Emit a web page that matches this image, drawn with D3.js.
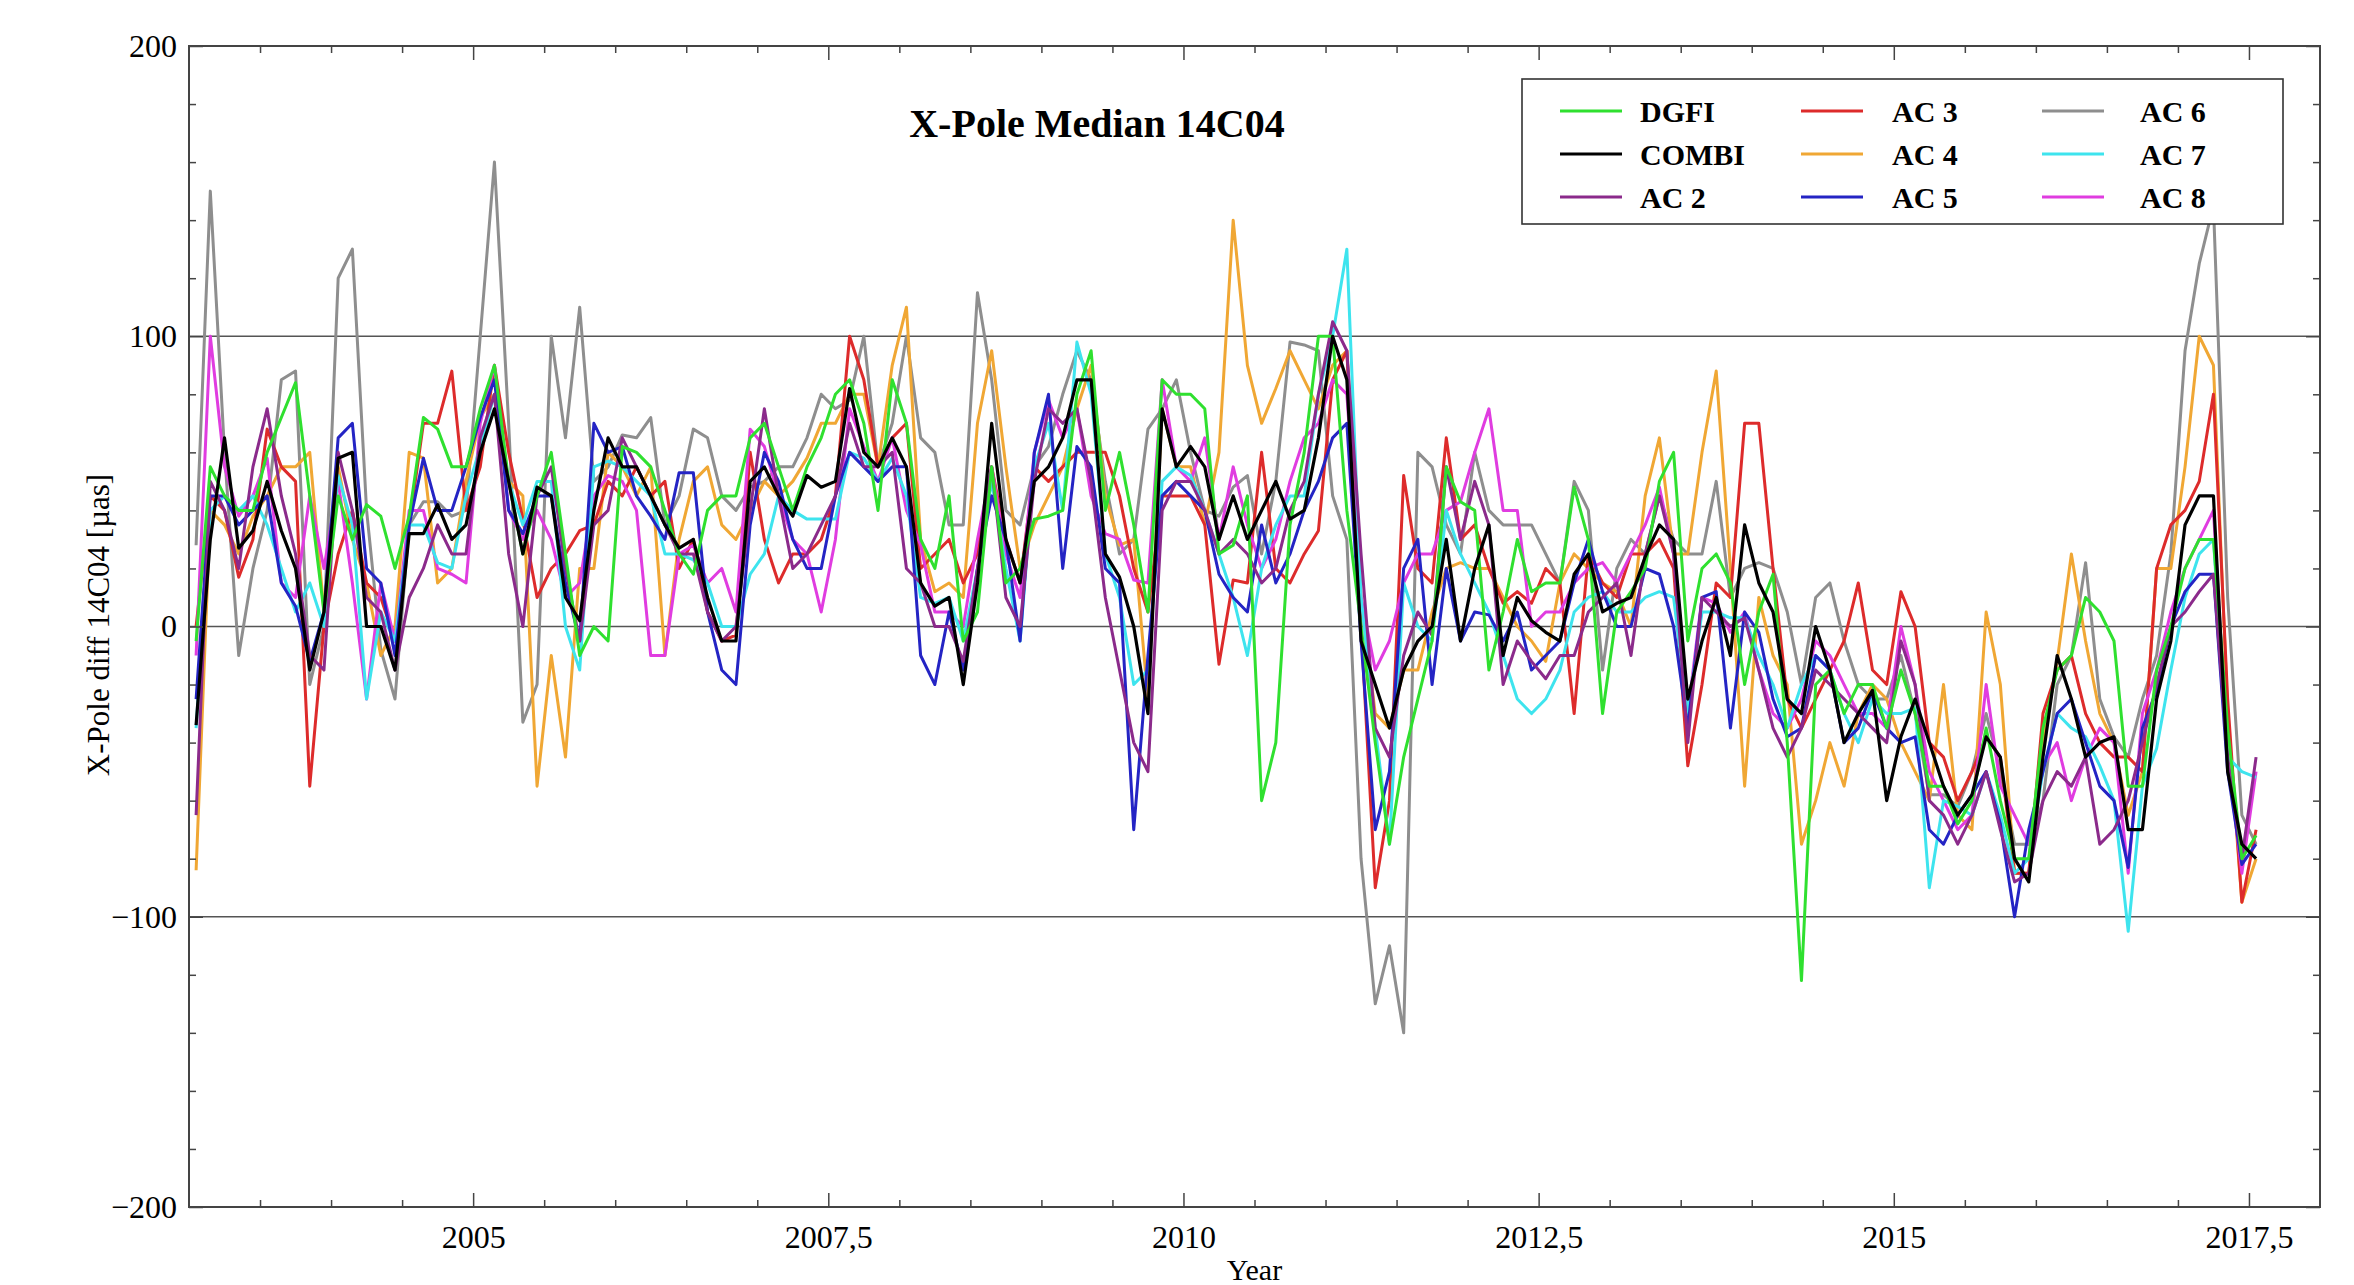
<!DOCTYPE html>
<html><head><meta charset="utf-8">
<script src="https://cdn.jsdelivr.net/npm/d3@7"></script>
<style>html,body{margin:0;padding:0;background:#fff;} svg{display:block;}</style>
</head><body>
<svg id="chart" width="2354" height="1285"></svg>
<script>
const startYear = 2003.05;
const yearStep = 0.1;
const xTickValues = [2005, 2007.5, 2010, 2012.5, 2015, 2017.5];
const yTickValues = [-200, -100, 0, 100, 200];
const gridValues = [-100, 0, 100];

const dgfi = [
 -5, 55, 45, 40, 40, 60, 72, 84, 45, 5, 45, 30, 42, 38, 20, 38, 72, 68, 55,
 55, 75, 90, 50, 25, 45, 60, 25, -10, 0, -5, 62, 60, 55, 40, 25, 18, 40, 45,
 45, 65, 70, 55, 40, 55, 65, 80, 85, 70, 40, 85, 70, 30, 20, 45, -5, 5,
 55, 15, 20, 37, 38, 40, 80, 95, 40, 60, 35, 5, 85, 80, 80, 75, 25, 28, 45,
 -60, -40, 35, 60, 100, 100, 40, 0, -40, -75, -45, -25, -5, 55, 43, 40, -15, 5, 30,
 12, 15, 15, 48, 30, -30, 5, 12, 20, 50, 60, -5, 20, 25, 15, -20, 5, 18, -40,
 -122, -20, -15, -30, -20, -20, -35, -15, -30, -55, -55, -68, -60, -35, -60, -80, -80, -35,
 -15, -10, 10, 5, -5, -55, -55, -15, 0, 20, 30, 30, -35, -80, -72];
const combi = [
 -34, 30, 65, 27, 33, 50, 33, 20, -15, 5, 58, 60, 0, 0, -15, 32, 32, 42, 30,
 35, 60, 75, 50, 25, 48, 45, 10, 2, 40, 65, 55, 55, 45, 35, 27, 30, 10, -5,
 -5, 50, 55, 45, 38, 52, 48, 50, 82, 60, 55, 65, 55, 15, 7, 10, -20, 15,
 70, 30, 15, 50, 55, 65, 85, 85, 25, 17, 0, -30, 75, 55, 62, 55, 30, 45, 30,
 40, 50, 37, 40, 65, 100, 85, -5, -20, -35, -15, -5, 0, 30, -5, 20, 35, -10, 10,
 2, -2, -5, 18, 25, 5, 8, 10, 24, 35, 30, -25, -5, 10, -10, 35, 15, 5, -25,
 -30, 0, -15, -40, -30, -22, -60, -38, -25, -40, -55, -65, -58, -38, -45, -80, -88, -45,
 -10, -25, -45, -40, -38, -70, -70, -25, -5, 35, 45, 45, -50, -75, -80];
const ac2 = [
 -65, 50, 40, 20, 55, 75, 45, 25, -10, -15, 60, 40, 10, 5, -15, 10, 20, 35, 25,
 25, 65, 80, 25, 0, 45, 55, 20, -5, 35, 40, 65, 55, 45, 35, 25, 25, 5, -5,
 0, 40, 75, 45, 20, 25, 35, 45, 70, 55, 55, 60, 20, 15, 0, 0, -12, 20,
 55, 10, 0, 50, 75, 70, 75, 50, 10, -15, -40, -50, 40, 50, 50, 40, 25, 30, 25,
 15, 20, 40, 50, 80, 105, 95, 25, -35, -45, -10, 5, -3, 55, 30, 50, 35, -20, -5,
 -12, -18, -10, -10, 5, 10, 15, -10, 25, 45, 25, -40, 10, 5, 0, 3, -15, -35, -45,
 -35, -15, -20, -25, -30, -35, -40, -5, -20, -60, -65, -75, -65, -50, -70, -88, -85, -60,
 -50, -55, -45, -75, -70, -60, -40, -20, 0, 5, 12, 18, -45, -80, -45];
const ac3 = [
 0, 45, 40, 17, 30, 68, 55, 50, -55, 0, 25, 40, 15, 10, -5, 35, 70, 70, 88,
 40, 55, 90, 60, 37, 10, 20, 25, 33, 35, 50, 45, 55, 45, 50, 20, 30, 5, -5,
 -3, 60, 30, 15, 25, 25, 30, 45, 100, 85, 55, 65, 70, 20, 25, 30, 15, 25,
 55, 30, 15, 55, 50, 55, 60, 60, 60, 45, 20, 5, 45, 45, 45, 35, -13, 16, 15,
 60, 20, 15, 25, 33, 85, 95, 0, -90, -60, 52, 20, 15, 65, 30, 35, 20, 8, 12,
 8, 20, 15, -30, 25, 15, 10, 25, 25, 30, 20, -48, -20, 15, 10, 70, 70, 20, -25,
 -35, -25, -15, -5, 15, -15, -20, 12, 0, -40, -45, -60, -50, -38, -45, -85, -85, -30,
 -15, -10, -30, -40, -45, -45, -50, 20, 35, 40, 50, 80, -25, -95, -70];
const ac4 = [
 -84, 40, 35, 25, 38, 45, 55, 55, 60, 5, 55, 30, 15, -10, 0, 60, 58, 15, 20,
 50, 72, 80, 50, 45, -55, -10, -45, 20, 20, 60, 55, 45, 55, -10, 30, 50, 55, 35,
 30, 40, 50, 45, 50, 58, 70, 70, 80, 80, 55, 90, 110, 30, 12, 15, 10, 70,
 95, 55, 20, 35, 45, 55, 75, 90, 45, 28, 30, -25, 75, 55, 55, 35, 60, 140, 90,
 70, 82, 95, 85, 75, 90, 95, 10, -30, -35, -15, -15, 5, 20, 22, 20, 20, 10, 0,
 -5, -12, 15, 25, 20, 15, 12, 0, 45, 65, 25, 25, 60, 88, 20, -55, 10, -10, -20,
 -75, -60, -40, -55, -30, -20, -25, -40, -50, -60, -20, -65, -70, 5, -20, -85, -85, -40,
 -12, 25, -5, -30, -40, -65, -50, 20, 20, 55, 100, 90, -30, -95, -80];
const ac5 = [
 -25, 45, 45, 35, 40, 45, 15, 7, -12, 5, 65, 70, 20, 15, -10, 35, 58, 40, 40,
 55, 72, 85, 40, 32, 45, 45, 15, -5, 70, 60, 62, 45, 38, 30, 53, 53, 5, -15,
 -20, 35, 60, 50, 30, 20, 20, 45, 60, 55, 50, 55, 55, -10, -20, 5, -15, 20,
 45, 30, -5, 60, 80, 20, 62, 55, 20, 15, -70, -10, 45, 50, 45, 40, 18, 10, 5,
 35, 15, 25, 40, 50, 65, 70, -5, -70, -50, 20, 30, -20, 20, -5, 5, 4, -5, 5,
 -15, -10, -5, 15, 30, 12, 0, 0, 20, 18, 0, -35, 10, 12, -35, 5, -2, -25, -38,
 -35, -10, -15, -40, -35, -22, -35, -40, -38, -70, -75, -65, -58, -50, -68, -100, -70, -50,
 -30, -25, -40, -55, -60, -83, -35, -22, 0, 12, 18, 18, -50, -82, -75];
const ac6 = [
 28, 150, 60, -10, 20, 40, 85, 88, -20, 0, 120, 130, 40, -8, -25, 35, 43, 43, 38,
 40, 100, 160, 70, -33, -20, 100, 65, 110, 50, 55, 66, 65, 72, 35, 45, 68, 65, 45,
 40, 48, 50, 55, 55, 65, 80, 75, 78, 100, 55, 70, 100, 65, 60, 35, 35, 115,
 85, 40, 35, 55, 62, 80, 95, 85, 50, 25, 30, 68, 75, 85, 60, 40, 38, 48, 52,
 25, 50, 98, 97, 95, 45, 30, -80, -130, -110, -140, 60, 55, 35, 25, 60, 40, 35, 35,
 35, 25, 15, 50, 40, -15, 20, 30, 25, 45, 30, 25, 25, 50, 10, 20, 22, 20, 5,
 -20, 10, 15, -5, -20, -25, -25, -10, -30, -58, -58, -62, -50, -30, -50, -75, -75, -60,
 -20, -10, 22, -25, -38, -45, -25, -10, 25, 95, 125, 145, 10, -65, -75];
const ac7 = [
 -35, 40, 45, 40, 45, 35, 20, 5, 15, 0, 52, 35, -25, 5, -5, 35, 35, 22, 20,
 45, 62, 80, 50, 35, 50, 50, 0, -15, 55, 57, 55, 50, 45, 25, 25, 23, 15, 0,
 0, 18, 25, 45, 40, 37, 37, 37, 60, 58, 50, 58, 45, 10, 8, 10, -5, 20,
 50, 20, -5, 55, 70, 40, 98, 80, 25, 10, -20, -15, 50, 55, 52, 40, 25, 10, -10,
 20, 35, 45, 45, 80, 100, 130, 10, -35, -75, 15, 0, -5, 40, 25, 15, 5, -10, -25,
 -30, -25, -15, 5, 10, 12, 5, 5, 10, 12, 10, -30, 5, 5, 3, 3, -10, -20, -35,
 -20, -10, -15, -30, -40, -25, -30, -30, -28, -90, -60, -62, -65, -50, -65, -85, -80, -50,
 -30, -35, -38, -48, -60, -105, -55, -42, -15, 10, 25, 30, -45, -50, -52];
const ac8 = [
 -10, 100, 55, 38, 45, 58, 15, 10, 45, 20, 50, 15, -25, 15, -5, 40, 40, 20, 18,
 15, 70, 90, 40, 30, 40, 30, 10, 15, 45, 52, 50, 40, -10, -10, 25, 28, 15, 20,
 5, 68, 62, 45, 30, 25, 5, 30, 75, 62, 50, 65, 40, 28, 5, 5, 0, 30,
 55, 25, 10, 60, 78, 65, 75, 45, 32, 30, 16, 15, 85, 55, 50, 65, 30, 55, 35,
 20, 30, 50, 65, 70, 85, 80, 10, -15, -5, 15, 25, 25, 40, 43, 60, 75, 40, 40,
 0, 5, 5, 15, 20, 22, 15, 25, 35, 48, 25, -30, 10, 8, -2, 5, -15, -30, -35,
 -25, -5, -10, -20, -30, -30, -35, 0, -20, -50, -60, -70, -65, -20, -55, -65, -75, -48,
 -40, -60, -45, -35, -40, -85, -30, -15, 5, 20, 30, 40, -45, -85, -50];

const seriesNames = ["DGFI", "COMBI", "AC 2", "AC 3", "AC 4", "AC 5", "AC 6", "AC 7", "AC 8"];
const seriesValues = [dgfi, combi, ac2, ac3, ac4, ac5, ac6, ac7, ac8];
const seriesColors = ["#2fe02f", "#000000", "#8b2a8b", "#dd2b2b", "#f0a734", "#2424c4", "#8e8e8e", "#3ee4ee", "#e03ce0"];
const drawOrder = [6, 4, 3, 8, 7, 5, 2, 0, 1];

// ---- drawing ----
const svg = d3.select("#chart");
const FONT = "'Liberation Serif', 'Times New Roman', serif";
const x = d3.scaleLinear().domain([2003, 2018]).range([189, 2320]);
const y = d3.scaleLinear().domain([-200, 200]).range([1207, 46]);
const [x0, x1] = x.range();
const [yb, yt] = y.range();

svg.append("rect").attr("width", 2354).attr("height", 1285).attr("fill", "#fff");

svg.append("defs").append("clipPath").attr("id", "plotclip")
  .append("rect").attr("x", x0).attr("y", yt).attr("width", x1 - x0).attr("height", yb - yt);

// grid lines
svg.append("g").selectAll("line").data(gridValues).join("line")
  .attr("x1", x0).attr("x2", x1)
  .attr("y1", d => y(d)).attr("y2", d => y(d))
  .attr("stroke", "#555").attr("stroke-width", 1.6);

// series lines
const line = d3.line()
  .x((d, i) => x(startYear + i * yearStep))
  .y(d => y(d));
const lg = svg.append("g").attr("clip-path", "url(#plotclip)");
drawOrder.forEach(k => {
  lg.append("path")
    .attr("d", line(seriesValues[k]))
    .attr("fill", "none")
    .attr("stroke", seriesColors[k])
    .attr("stroke-width", k === 1 ? 3.2 : 3)
    .attr("stroke-linejoin", "round");
});

// legend
const legend = svg.append("g");
legend.append("rect").attr("x", 1522).attr("y", 79).attr("width", 761).attr("height", 145)
  .attr("fill", "#fff").attr("stroke", "#333").attr("stroke-width", 1.6);
const colLine = [1560, 1801, 2042], colText = [1640, 1892, 2140], rowY = [111, 154, 197];
seriesNames.forEach((name, i) => {
  const c = Math.floor(i / 3), r = i % 3;
  legend.append("line").attr("x1", colLine[c]).attr("x2", colLine[c] + 62)
    .attr("y1", rowY[r]).attr("y2", rowY[r])
    .attr("stroke", seriesColors[i]).attr("stroke-width", 3);
  legend.append("text").attr("x", colText[c]).attr("y", rowY[r]).attr("dy", "0.35em")
    .attr("font-family", FONT).attr("font-weight", "bold").attr("font-size", 30)
    .text(name);
});

// frame
svg.append("rect").attr("x", x0).attr("y", yt).attr("width", x1 - x0).attr("height", yb - yt)
  .attr("fill", "none").attr("stroke", "#444").attr("stroke-width", 2);

function styleAxis(g) {
  g.select(".domain").remove();
  g.selectAll(".tick line").attr("stroke", "#444").attr("stroke-width", 1.5);
  g.selectAll("text").attr("font-family", FONT).attr("font-size", 32).attr("fill", "#000");
}
const xMinor = d3.range(2003.5, 2018, 0.5).filter(v => !xTickValues.includes(v));
const yMinor = d3.range(-180, 200, 20).filter(v => v % 100 !== 0);

// bottom
svg.append("g").attr("transform", `translate(0,${yb})`)
  .call(d3.axisBottom(x).tickValues(xMinor).tickSize(-7).tickFormat("")).call(styleAxis);
svg.append("g").attr("transform", `translate(0,${yb})`)
  .call(d3.axisBottom(x).tickValues(xTickValues).tickSize(-14).tickPadding(18)
    .tickFormat(d => String(d).replace(".", ","))).call(styleAxis);
// top
svg.append("g").attr("transform", `translate(0,${yt})`)
  .call(d3.axisTop(x).tickValues(xMinor).tickSize(-7).tickFormat("")).call(styleAxis);
svg.append("g").attr("transform", `translate(0,${yt})`)
  .call(d3.axisTop(x).tickValues(xTickValues).tickSize(-14).tickFormat("")).call(styleAxis);
// left
svg.append("g").attr("transform", `translate(${x0},0)`)
  .call(d3.axisLeft(y).tickValues(yMinor).tickSize(-7).tickFormat("")).call(styleAxis);
svg.append("g").attr("transform", `translate(${x0},0)`)
  .call(d3.axisLeft(y).tickValues(yTickValues).tickSize(-14).tickPadding(12)).call(styleAxis);
// right
svg.append("g").attr("transform", `translate(${x1},0)`)
  .call(d3.axisRight(y).tickValues(yMinor).tickSize(-7).tickFormat("")).call(styleAxis);
svg.append("g").attr("transform", `translate(${x1},0)`)
  .call(d3.axisRight(y).tickValues(yTickValues).tickSize(-14).tickFormat("")).call(styleAxis);

// titles
svg.append("text").attr("x", 1097).attr("y", 137).attr("text-anchor", "middle")
  .attr("font-family", FONT).attr("font-weight", "bold").attr("font-size", 40)
  .text("X-Pole Median 14C04");
svg.append("text").attr("transform", "translate(98,625) rotate(-90)")
  .attr("text-anchor", "middle").attr("dy", "0.35em")
  .attr("font-family", FONT).attr("font-size", 31)
  .text("X-Pole diff 14C04 [µas]");
svg.append("text").attr("x", (x0 + x1) / 2).attr("y", 1280).attr("text-anchor", "middle")
  .attr("font-family", FONT).attr("font-size", 30)
  .text("Year");
</script>
</body></html>
